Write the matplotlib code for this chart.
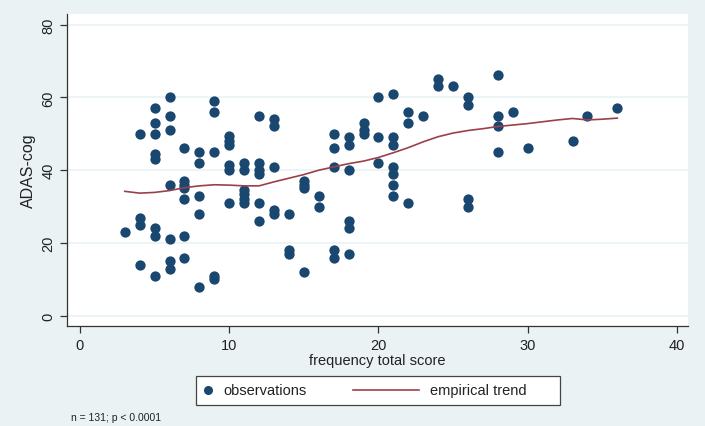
import numpy as np
import matplotlib.pyplot as plt
from matplotlib.patches import Rectangle
from matplotlib.lines import Line2D

plt.rcParams['font.family'] = ['Liberation Sans', 'DejaVu Sans']

# observations (frequency total score, ADAS-cog)
freq = [3,
        4, 4, 4, 4,
        5, 5, 5, 5, 5, 5, 5, 5,
        6, 6, 6, 6, 6, 6, 6,
        7, 7, 7, 7, 7, 7, 7,
        8, 8, 8, 8, 8,
        9, 9, 9, 9, 9,
        10, 10, 10, 10, 10, 10,
        11, 11, 11, 11, 11, 11,
        12, 12, 12, 12, 12, 12,
        13, 13, 13, 13, 13,
        14, 14, 14,
        15, 15, 15, 15,
        16, 16,
        17, 17, 17, 17, 17,
        18, 18, 18, 18, 18, 18,
        19, 19, 19,
        20, 20, 20,
        21, 21, 21, 21, 21, 21, 21,
        22, 22, 22,
        23,
        24, 24,
        25,
        26, 26, 26, 26,
        28, 28, 28, 28,
        29, 30, 33, 34, 36]
adas = [23,
        50, 27, 25, 14,
        57, 53, 50, 44.5, 43, 24, 22, 11,
        60, 55, 51, 36, 21, 15, 13,
        46, 37, 36, 35, 32, 22, 16,
        45, 42, 33, 28, 8,
        59, 56, 45, 11, 10,
        49.5, 48, 47, 41.5, 40, 31,
        42, 40, 34.5, 33.5, 32, 31,
        55, 42, 40, 39, 31, 26,
        54, 52, 41, 29, 28,
        28, 18, 17,
        37, 36, 35, 12,
        33, 30,
        50, 46, 41, 18, 16,
        49, 47, 40, 26, 24, 17,
        53, 51, 50,
        60, 49, 42,
        61, 49, 47, 41, 39, 36, 33,
        56, 53, 31,
        55,
        65, 63,
        63,
        60, 58, 32, 30,
        66, 55, 52, 45,
        56, 46, 48, 55, 57]

# empirical trend (lowess)
trend_x = [3, 4, 5, 6, 7, 8, 9, 10, 11, 12, 13, 14, 15, 16, 17, 18, 19, 20,
           21, 22, 23, 24, 25, 26, 27, 28, 29, 30, 31, 32, 33, 34, 35, 36]
trend_y = [34.2, 33.7, 33.9, 34.4, 35.2, 35.7, 36.0, 35.9, 35.7, 35.7, 36.8,
           37.8, 38.8, 40.0, 40.9, 41.8, 42.5, 43.5, 44.8, 46.2, 47.8, 49.2,
           50.2, 50.9, 51.4, 52.0, 52.4, 52.8, 53.3, 53.8, 54.2, 53.8, 54.0, 54.3]

navy = '#1a476f'
maroon = '#9b4049'
bg = '#eaf2f3'
W, H = 705, 427

fig = plt.figure(figsize=(7.05, 4.27), dpi=100)
fig.patch.set_facecolor(bg)
ax = fig.add_axes([0.095, 0.234, 0.881, 0.731])
ax.set_facecolor('white')

ax.scatter(freq, adas, s=55, color=navy, zorder=3, linewidths=0)
ax.plot(trend_x, trend_y, color=maroon, lw=1.2, zorder=4)

ax.set_xlim(-0.87, 40.74)
ax.set_ylim(-2.8, 82.9)
ax.set_xticks([0, 10, 20, 30, 40])
ax.set_yticks([0, 20, 40, 60, 80])
ax.yaxis.grid(True, color=bg, lw=1.2)
ax.set_axisbelow(True)
for s in ['top', 'right']:
    ax.spines[s].set_visible(False)
for s in ['left', 'bottom']:
    ax.spines[s].set_color('#333333')
    ax.spines[s].set_linewidth(0.9)
ax.tick_params(colors='#333333', labelcolor='#222222', labelsize=10.5, length=5, width=0.9)
for lab in ax.get_yticklabels():
    lab.set_rotation(90)
    lab.set_va('center')
ax.set_xlabel('frequency total score', fontsize=10.5, color='#222222', labelpad=1)
ax.set_ylabel('ADAS-cog', fontsize=11.5, color='#222222', labelpad=4)

# legend box (drawn by hand to get the Stata layout)
fig.add_artist(Rectangle((196 / W, 1 - 406 / H), 364 / W, 29 / H, transform=fig.transFigure,
                         facecolor='white', edgecolor='#444444', lw=0.9))
fig.add_artist(Line2D([208 / W], [1 - 391 / H], marker='o', markersize=5.5, color=navy,
                      transform=fig.transFigure))
fig.text(223 / W, 1 - 391 / H, 'observations', fontsize=10.5, color='#222222', va='center')
fig.add_artist(Line2D([353 / W, 419 / W], [1 - 391 / H, 1 - 391 / H], color=maroon, lw=1.2,
                      transform=fig.transFigure))
fig.text(430 / W, 1 - 391 / H, 'empirical trend', fontsize=10.5, color='#222222', va='center')

fig.text(71 / W, 1 - 418 / H, 'n = 131; p < 0.0001', fontsize=7.5, color='#222222', va='center')

fig.savefig('out.png', dpi=100, facecolor=bg)
